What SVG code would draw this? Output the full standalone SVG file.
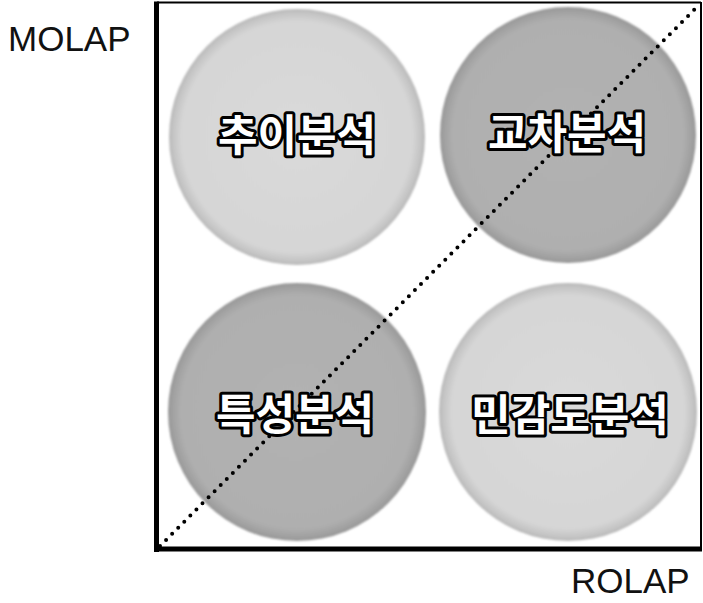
<svg xmlns="http://www.w3.org/2000/svg" width="703" height="603" viewBox="0 0 703 603">
<defs>
<radialGradient id="gLight" cx="50%" cy="50%" r="50%">
<stop offset="0" stop-color="#dadada"/>
<stop offset="0.9" stop-color="#d6d6d6"/>
<stop offset="0.97" stop-color="#c4c4c4"/>
<stop offset="1" stop-color="#b8b8b8"/>
</radialGradient>
<radialGradient id="gDark" cx="50%" cy="50%" r="50%">
<stop offset="0" stop-color="#b2b2b2"/>
<stop offset="0.9" stop-color="#afafaf"/>
<stop offset="0.97" stop-color="#a0a0a0"/>
<stop offset="1" stop-color="#969696"/>
</radialGradient>
<filter id="soft" x="-5%" y="-5%" width="110%" height="110%">
<feGaussianBlur stdDeviation="1.2"/>
</filter>
</defs>
<style>
.lbl{font-family:"Noto Sans CJK KR","Noto Sans",sans-serif;font-weight:bold;font-size:43px;fill:#ffffff;stroke:#000000;stroke-width:6;stroke-linejoin:round;paint-order:stroke;text-anchor:middle}
.axis{font-family:"Liberation Sans","DejaVu Sans",sans-serif;font-size:35px;fill:#111111}
</style>
<rect width="703" height="603" fill="#ffffff"/>
<g id="frame">
<line x1="157" y1="2.5" x2="701" y2="2.5" stroke="#000" stroke-width="2"/>
<line x1="701" y1="2" x2="701" y2="550" stroke="#000" stroke-width="2"/>
<line x1="156.5" y1="1.5" x2="156.5" y2="552" stroke="#000" stroke-width="5"/>
<line x1="154" y1="549" x2="702" y2="549" stroke="#000" stroke-width="5"/>
</g>
<g id="node-trend">
<circle cx="297" cy="137" r="128" fill="url(#gLight)" filter="url(#soft)"/>
<text class="lbl" x="297" y="151">추이분석</text>
</g>
<g id="node-cross">
<circle cx="568" cy="135" r="128" fill="url(#gDark)" filter="url(#soft)"/>
</g>
<g id="node-feature">
<circle cx="297" cy="412" r="129" fill="url(#gDark)" filter="url(#soft)"/>
</g>
<g id="node-sensitivity">
<circle cx="568" cy="412" r="129" fill="url(#gLight)" filter="url(#soft)"/>
<text class="lbl" x="570" y="431">민감도분석</text>
</g>
<g id="connectors">
<line x1="160" y1="546" x2="699" y2="5" stroke="#000" stroke-width="4" stroke-linecap="round" stroke-dasharray="0 8.6"/>
</g>
<g id="labels-over">
<text class="lbl" x="567" y="149">교차분석</text>
<text class="lbl" x="295" y="430">특성분석</text>
</g>
<text class="axis" x="8" y="51">MOLAP</text>
<text class="axis" x="571" y="593">ROLAP</text>
</svg>
